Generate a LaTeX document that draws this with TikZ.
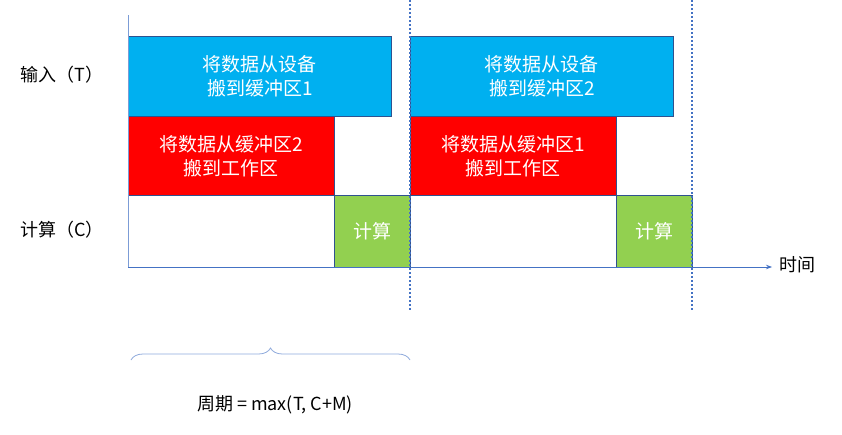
\documentclass[tikz,border=0pt]{standalone}
\usepackage{fontspec}
\setmainfont{Noto Sans CJK SC}
\usetikzlibrary{decorations.pathreplacing,arrows.meta}
\definecolor{cblue}{HTML}{00B0F0}
\definecolor{cred}{HTML}{FF0000}
\definecolor{cgreen}{HTML}{92D050}
\definecolor{cedge}{HTML}{2F528F}
\definecolor{caxis}{HTML}{4472C4}
\begin{document}
\begin{tikzpicture}[x=1pt,y=-1pt,
  blk/.style={draw=cedge,line width=0.8pt,text=white,align=center,font=\fontsize{19}{24}\selectfont},
  lbl/.style={font=\fontsize{18}{22}\selectfont}]
\useasboundingbox (0,0) rectangle (842,434);
\draw[draw=cedge,line width=0.6pt] (128,195) rectangle (410,267);
\draw[draw=cedge,line width=0.6pt] (410,195) rectangle (692,267);
\node[blk,fill=cblue,minimum width=263,minimum height=80,anchor=north west] (b1) at (128,36) {将数据从设备\\搬到缓冲区1};
\node[blk,fill=cblue,minimum width=263,minimum height=80,anchor=north west] (b2) at (410,36) {将数据从设备\\搬到缓冲区2};
\node[blk,fill=cred,minimum width=206,minimum height=79,anchor=north west] (r1) at (128,116) {将数据从缓冲区2\\搬到工作区};
\node[blk,fill=cred,minimum width=206,minimum height=79,anchor=north west] (r2) at (410,116) {将数据从缓冲区1\\搬到工作区};
\node[blk,fill=cgreen,minimum width=76,minimum height=72,anchor=north west] (g1) at (334,195) {计算};
\node[blk,fill=cgreen,minimum width=76,minimum height=72,anchor=north west] (g2) at (616,195) {计算};
\coordinate (o) at (128,267);
\coordinate (top) at (128,15);
\coordinate (xend) at (772,267);
\draw[caxis!70,line width=0.8pt] (o) -- (top);
\draw[caxis,line width=0.8pt,-{Stealth[length=6pt]}] (o) -- (xend);
\node[lbl,anchor=west] (t) at (776,265) {时间};
\draw[caxis,line width=2pt,dotted] (410,0) -- (410,310);
\draw[caxis,line width=2pt,dotted] (692,0) -- (692,310);
\node[lbl] (inp) at (62,75) {输入（T）};
\node[lbl] (cal) at (62,230) {计算（C）};
\coordinate (bl) at (131,360);
\coordinate (br) at (410,360);
\draw[caxis!60,line width=0.8pt,decorate,decoration={brace,amplitude=12pt,mirror}] (br) -- (bl);
\node[lbl] (per) at (275,405) {周期 = max(T, C+M)};
\end{tikzpicture}
\end{document}
